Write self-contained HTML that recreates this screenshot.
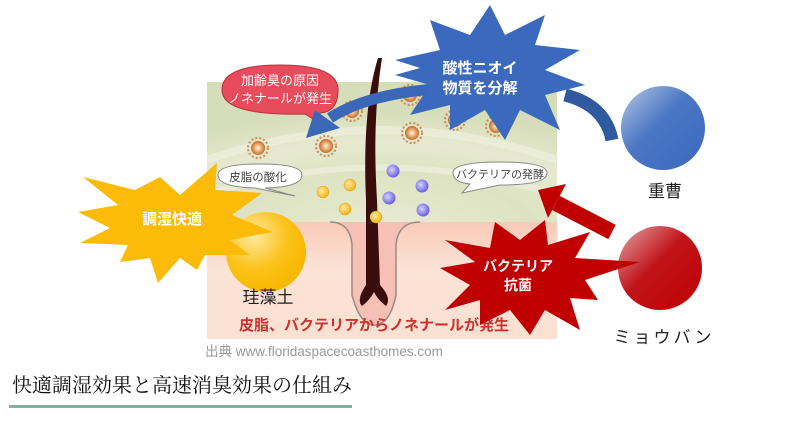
<!DOCTYPE html>
<html><head><meta charset="utf-8"><style>
html,body{margin:0;padding:0;background:#fff;width:800px;height:434px;overflow:hidden}
svg text{font-family:"Liberation Sans","Noto Sans CJK JP",sans-serif}
</style></head><body>
<svg width="800" height="434" viewBox="0 0 800 434" xmlns="http://www.w3.org/2000/svg">
<defs>
<radialGradient id="gr" cx="0.5" cy="1.1" r="0.9">
<stop offset="0" stop-color="#e9ecd6"/><stop offset="0.5" stop-color="#dde3c2"/><stop offset="0.75" stop-color="#e6e9d0"/><stop offset="1" stop-color="#d6ddb9"/></radialGradient>
<linearGradient id="pk" x1="0" y1="0" x2="0" y2="1"><stop offset="0" stop-color="#f8c9b8"/><stop offset="0.4" stop-color="#fbe3d6"/><stop offset="1" stop-color="#fbe1d2"/></linearGradient>
<linearGradient id="bc" x1="0" y1="0" x2="1" y2="1"><stop offset="0" stop-color="#b7c7e6"/><stop offset="0.45" stop-color="#4a76c4"/><stop offset="1" stop-color="#3a68bd"/></linearGradient>
<linearGradient id="rc" x1="0" y1="0" x2="1" y2="1"><stop offset="0" stop-color="#e3a9a9"/><stop offset="0.45" stop-color="#c0141a"/><stop offset="1" stop-color="#c00000"/></linearGradient>
<radialGradient id="yc" cx="0.35" cy="0.3" r="0.7"><stop offset="0" stop-color="#fde9a0"/><stop offset="0.6" stop-color="#fcc21a"/><stop offset="1" stop-color="#f7b800"/></radialGradient>
<radialGradient id="dot" cx="0.4" cy="0.4" r="0.6"><stop offset="0" stop-color="#ffe9a0"/><stop offset="1" stop-color="#f2b516"/></radialGradient>
<radialGradient id="pdot" cx="0.4" cy="0.4" r="0.6"><stop offset="0" stop-color="#d6d2ff"/><stop offset="1" stop-color="#6b5fe0"/></radialGradient>
<radialGradient id="sp" cx="0.5" cy="0.5" r="0.5"><stop offset="0" stop-color="#fff3e0"/><stop offset="0.6" stop-color="#e8a060"/><stop offset="1" stop-color="#c06a30"/></radialGradient>
</defs>
<rect x="207" y="82" width="350" height="141" fill="url(#gr)"/>
<rect x="207" y="222" width="350" height="117" fill="url(#pk)"/>
<path d="M207,160 Q380,100 557,160" fill="none" stroke="#eef0de" stroke-width="8" opacity="0.7"/>
<path d="M207,195 Q380,140 557,195" fill="none" stroke="#eef0de" stroke-width="6" opacity="0.7"/>
<path d="M330,222 Q350,222 352,245 L352,295 Q360,325 374,325 Q390,325 396,295 L396,245 Q398,222 420,222" fill="#f6c0b6" stroke="#9a8c80" stroke-width="1.5"/>
<path d="M378,58 Q362,110 366,200 L366,285 Q356,300 362,306 Q370,300 374,292 Q378,300 386,306 Q392,298 380,285 L377,200 Q372,120 382,58 Z" fill="#3a0d0d"/>
<g fill="url(#sp)">
<circle cx="258" cy="148" r="7"/><circle cx="326" cy="146" r="7"/><circle cx="352" cy="111" r="7"/><circle cx="410" cy="95" r="7"/><circle cx="412" cy="133" r="7"/><circle cx="455" cy="120" r="7"/><circle cx="496" cy="126" r="7"/>
</g>
<g fill="none" stroke="#d08a50" stroke-width="2" stroke-dasharray="2 2">
<circle cx="258" cy="148" r="10"/><circle cx="326" cy="146" r="10"/><circle cx="352" cy="111" r="10"/><circle cx="410" cy="95" r="10"/><circle cx="412" cy="133" r="10"/><circle cx="455" cy="120" r="10"/><circle cx="496" cy="126" r="10"/>
</g>
<g fill="url(#dot)" stroke="#d9a020" stroke-width="0.5">
<circle cx="323" cy="192" r="6"/><circle cx="350" cy="185" r="6"/><circle cx="345" cy="209" r="6"/><circle cx="376" cy="217" r="6"/>
</g>
<g fill="url(#pdot)">
<circle cx="393" cy="171" r="6.5"/><circle cx="422" cy="186" r="6.5"/><circle cx="389" cy="198" r="6.5"/><circle cx="423" cy="210" r="6.5"/>
</g>
<path d="M218,175 Q218,164 260,164 Q302,164 302,175 Q302,187 265,188 L295,196 L255,188 Q218,187 218,175Z" fill="#fff" stroke="#888" stroke-width="1"/>
<text x="258" y="181" font-size="11.5" text-anchor="middle" fill="#444">皮脂の酸化</text>
<path d="M453,173 Q453,162 500,162 Q547,162 547,173 Q547,185 500,185 L462,193 L470,184 Q453,182 453,173Z" fill="#fff" stroke="#888" stroke-width="1"/>
<text x="500" y="178" font-size="11" text-anchor="middle" fill="#444">バクテリアの発酵</text>
<path d="M222,90 Q222,65 280,65 Q338,65 338,90 Q338,112 320,113 L318,122 L305,114 Q222,116 222,90Z" fill="#e84c5c" stroke="#b8303c" stroke-width="1"/>
<text x="280" y="85" font-size="13" text-anchor="middle" fill="#fff">加齢臭の原因</text>
<text x="280" y="103" font-size="13" text-anchor="middle" fill="#fff">ノネナールが発生</text>
<circle cx="266" cy="252" r="40" fill="url(#yc)"/>
<polygon points="83,177 135,190 160,177 180,195 217,163 215,190 262,193 232,215 273,232 230,240 250,255 205,255 197,270 180,258 158,283 150,258 120,262 128,245 80,243 110,228 78,212 118,205" fill="#fbbb08"/>
<text x="172" y="224" font-size="15" font-weight="bold" text-anchor="middle" fill="#fff">調湿快適</text>
<text x="268" y="303" font-size="17" text-anchor="middle" fill="#222">珪藻土</text>
<text x="374" y="330" font-size="15" font-weight="bold" text-anchor="middle" fill="#d03030">皮脂、バクテリアからノネナールが発生</text>
<text x="205" y="356" font-size="13.5" fill="#999">出典 www.floridaspacecoasthomes.com</text>
<path d="M612,140 Q605,105 565,95" fill="none" stroke="#2f5aa0" stroke-width="13"/>
<circle cx="663" cy="128" r="42" fill="url(#bc)"/>
<path d="M450,88 Q370,92 330,118" fill="none" stroke="#3b67b8" stroke-width="11"/>
<polygon points="306,138 315,110 340,128" fill="#3b67b8"/>
<polygon points="395,60 440,50 430,20 470,35 490,5 505,35 545,15 535,45 580,50 545,70 585,85 545,95 560,130 520,110 505,140 485,110 450,130 450,105 410,115 430,85 395,75 420,68" fill="#3a69bd"/>
<text x="480" y="73" font-size="15" font-weight="bold" text-anchor="middle" fill="#fff">酸性ニオイ</text>
<text x="480" y="93" font-size="15" font-weight="bold" text-anchor="middle" fill="#fff">物質を分解</text>
<text x="665" y="197" font-size="17" text-anchor="middle" fill="#222">重曹</text>
<circle cx="660" cy="268" r="42" fill="url(#rc)"/>
<line x1="612" y1="232" x2="556" y2="203" stroke="#c00000" stroke-width="16"/>
<polygon points="538,190 566,184 548,218" fill="#c00000"/>
<polygon points="445,240 490,248 495,222 520,240 545,220 548,245 590,232 575,258 640,262 585,280 598,300 570,298 580,330 545,310 530,335 510,310 480,325 480,300 445,310 470,285 440,268 475,262" fill="#c00000"/>
<text x="518" y="271" font-size="14" font-weight="bold" text-anchor="middle" fill="#fff">バクテリア</text>
<text x="518" y="290" font-size="14" font-weight="bold" text-anchor="middle" fill="#fff">抗菌</text>
<text x="664" y="343" font-size="17" text-anchor="middle" fill="#222" letter-spacing="3">ミョウバン</text>
<text x="12" y="392" font-size="20" fill="#111" style="font-family:'Liberation Serif','Noto Serif CJK SC',serif">快適調湿効果と高速消臭効果の仕組み</text>
<rect x="9" y="405" width="343" height="3" fill="#7fb0a0"/>
</svg>
</body></html>
